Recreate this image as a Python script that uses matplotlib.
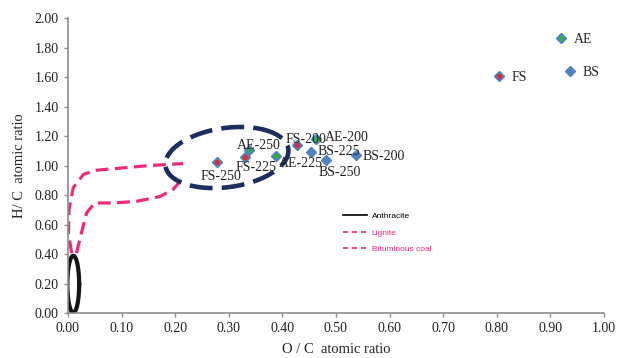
import numpy as np
import matplotlib
matplotlib.use('Agg')
import matplotlib.pyplot as plt
from matplotlib.lines import Line2D

# samples (O/C, H/C)
names = ['AE', 'BS', 'FS', 'FS-200', 'AE-200', 'BS-225', 'BS-250', 'BS-200',
         'AE-225', 'FS-225', 'AE-250', 'FS-250']
oc = [0.92, 0.937, 0.804, 0.427, 0.463, 0.453, 0.481, 0.537, 0.388, 0.330, 0.338, 0.279]
hc = [1.864, 1.64, 1.605, 1.138, 1.18, 1.093, 1.04, 1.068, 1.063, 1.059, 1.104, 1.022]
# label offsets in points
label_off = [(9, -1), (9, -1), (9, -1), (-8, 4), (6, 1), (5, 0), (-5, -9), (5, -1),
             (2, -5), (-7, -8), (-9, 3), (-12, -10)]

# van Krevelen region outlines
lignite_x = [0.007, 0.001, 0.002, 0.010, 0.029, 0.053, 0.103, 0.153, 0.215]
lignite_y = [0.406, 0.54, 0.70, 0.85, 0.94, 0.968, 0.984, 1.0, 1.013]
bitum_x = [0.016, 0.025, 0.035, 0.050, 0.085, 0.128, 0.172, 0.196, 0.215]
bitum_y = [0.406, 0.54, 0.68, 0.746, 0.746, 0.757, 0.79, 0.837, 0.916]

blue = '#4f81bd'
pink = '#ec2a7a'
navy = '#1c2e5e'

plt.rcParams['font.family'] = ['Liberation Serif', 'DejaVu Serif']

fig = plt.figure(figsize=(6.23, 3.58), dpi=100)
ax = fig.add_axes([0.109, 0.1257, 0.8605, 0.824])

# curves
ax.plot(lignite_x, lignite_y, color=pink, lw=2.3, dashes=(4, 2))
ax.plot(bitum_x, bitum_y, color=pink, lw=2.3, dashes=(4, 2))

# anthracite ellipse
t = np.linspace(0, 2 * np.pi, 200)
ax.plot(0.010 + 0.011 * np.cos(t), 0.195 + 0.193 * np.sin(t), color='#151515', lw=3)

# torrefied samples ellipse
t2 = np.linspace(0.6, 0.6 + 2 * np.pi, 300)
ex = 0.2966 + 0.1145 * np.cos(t2) - 0.0077 * np.sin(t2)
ey = 1.054 + 0.0586 * np.cos(t2) + 0.1987 * np.sin(t2)
ax.plot(ex, ey, color=navy, lw=3.3, dashes=(5, 2))

# points
for n, x, y, off in zip(names, oc, hc, label_off):
    ax.plot(x, y, marker='D', ms=5.5, color=blue, ls='none', zorder=5)
    if n.startswith('FS'):
        ax.plot(x, y, marker='o', ms=2.8, color='#e8262b', ls='none', zorder=6)
    elif n.startswith('AE'):
        ax.plot(x, y, marker='o', ms=2.8, color='#2fae4a', ls='none', zorder=6)
    ax.annotate(n, (x, y), xytext=off, textcoords='offset points', fontsize=10,
                color='#222222', va='center', zorder=7)

ax.set_xlim(0, 1.0)
ax.set_ylim(0, 2.0)
ax.set_xticks(np.arange(0, 1.01, 0.1))
ax.set_yticks(np.arange(0, 2.01, 0.2))
ax.set_xticklabels(['%.2f' % v for v in np.arange(0, 1.01, 0.1)])
ax.set_yticklabels(['%.2f' % v for v in np.arange(0, 2.01, 0.2)])
for s in ['top', 'right']:
    ax.spines[s].set_visible(False)
for s in ['left', 'bottom']:
    ax.spines[s].set_color('#8c8c8c')
    ax.spines[s].set_linewidth(1.2)
ax.tick_params(colors='#8c8c8c', labelcolor='#222222', labelsize=10, length=3, width=1)
ax.set_xlabel('O / C  atomic ratio', fontsize=10.5, color='#222222', labelpad=6)
ax.set_ylabel('H/ C  atomic ratio', fontsize=10.5, color='#222222', labelpad=6)

handles = [Line2D([], [], color='black', lw=1.2),
           Line2D([], [], color=pink, lw=1.2, dashes=(3, 2.4)),
           Line2D([], [], color=pink, lw=1.2, dashes=(3, 2.4))]
leg = ax.legend(handles, ['Anthracite', 'Lignite', 'Bituminous coal'],
                loc='upper left', bbox_to_anchor=(0.4995, 0.367), frameon=False,
                handlelength=2.8, handletextpad=0.6, labelspacing=1.05,
                prop={'family': 'Liberation Sans', 'size': 6})
for txt, c in zip(leg.get_texts(), ['black', pink, pink]):
    txt.set_color(c)

fig.savefig('out.png', dpi=100)
